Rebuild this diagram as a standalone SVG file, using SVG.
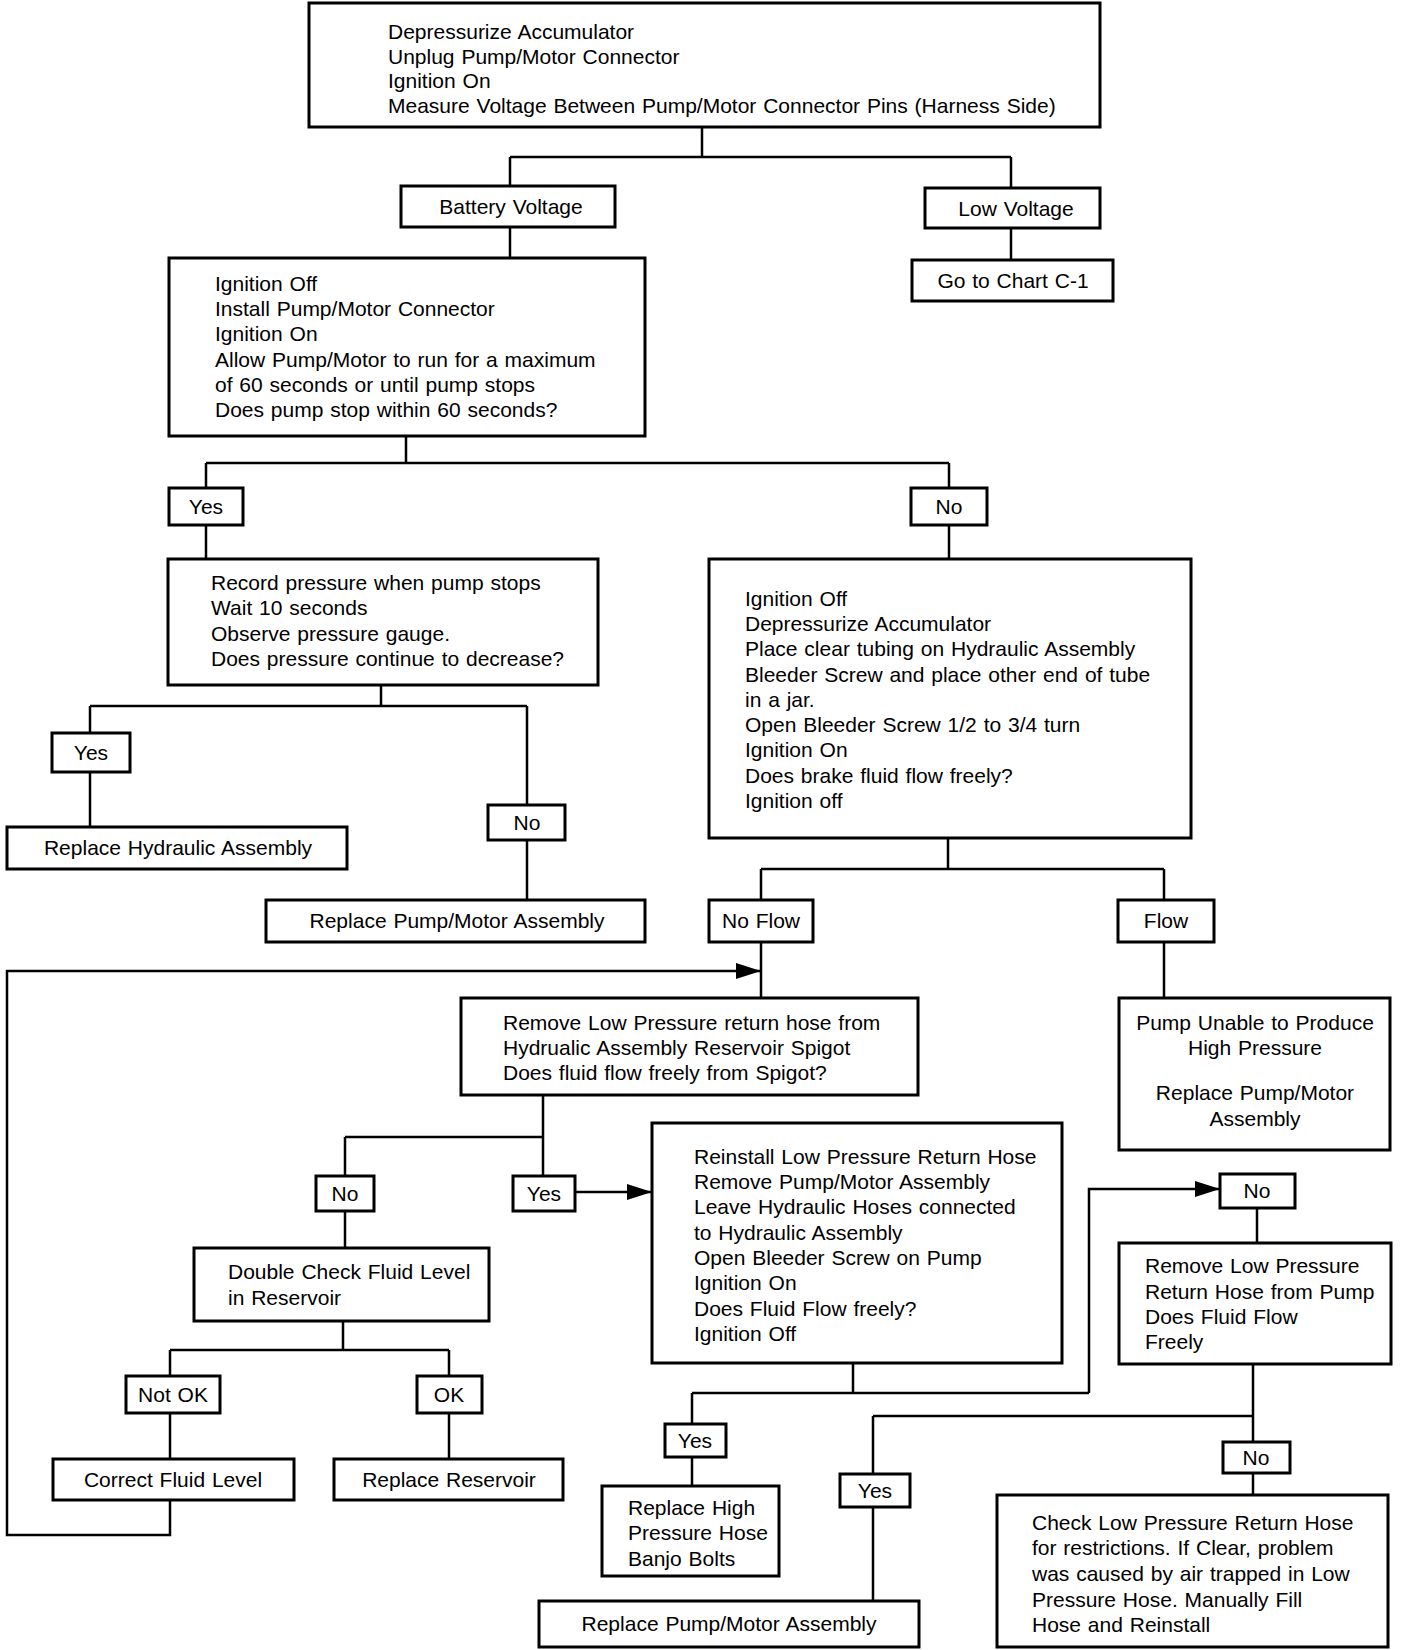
<svg xmlns="http://www.w3.org/2000/svg" width="1408" height="1650" viewBox="0 0 1408 1650">
<style>
.b{fill:#fff;stroke:#000;stroke-width:3}
.t{font-family:"Liberation Sans",Arial,sans-serif;font-size:21px;word-spacing:1px;fill:#000}
.c{text-anchor:middle}
.ln{fill:none;stroke:#000;stroke-width:2.5}
</style>
<defs>
<marker id="ar" markerUnits="userSpaceOnUse" markerWidth="26" markerHeight="16" refX="25" refY="8" orient="auto">
<path d="M0,0 L25,8 L0,16 z" fill="#000"/>
</marker>
</defs>
<rect width="1408" height="1650" fill="#fff"/>
<g id="connectors">
<path class="ln" d="M702,128 V157 M510,157 H1011 M510,157 V186 M1011,157 V188"/>
<path class="ln" d="M1011,228 V260"/>
<path class="ln" d="M510,227 V258"/>
<path class="ln" d="M406,436 V463 M206,463 H949 M206,463 V488 M949,463 V488"/>
<path class="ln" d="M206,525 V559"/>
<path class="ln" d="M949,525 V559"/>
<path class="ln" d="M381,685 V706 M90,706 H527 M90,706 V733 M527,706 V805"/>
<path class="ln" d="M90,772 V827"/>
<path class="ln" d="M527,840 V900"/>
<path class="ln" d="M948,838 V869 M761,869 H1164 M761,869 V900 M1164,869 V900"/>
<path class="ln" d="M761,942 V998"/>
<path class="ln" d="M170,1500 V1535 H7 V971 H761" marker-end="url(#ar)"/>
<path class="ln" d="M1164,942 V998"/>
<path class="ln" d="M543,1095 V1137 M345,1137 H543 M345,1137 V1176 M543,1137 V1176"/>
<path class="ln" d="M575,1192 H652" marker-end="url(#ar)"/>
<path class="ln" d="M345,1211 V1248"/>
<path class="ln" d="M343,1321 V1350 M170,1350 H449 M170,1350 V1376 M449,1350 V1376"/>
<path class="ln" d="M170,1413 V1459"/>
<path class="ln" d="M449,1413 V1459"/>
<path class="ln" d="M853,1364 V1393 M692,1393 H1089 M692,1393 V1424 M1089,1393 V1189 H1220" marker-end="url(#ar)"/>
<path class="ln" d="M692,1457 V1486"/>
<path class="ln" d="M1257,1208 V1243"/>
<path class="ln" d="M1253,1364 V1442 M873,1416 H1253 M873,1416 V1474"/>
<path class="ln" d="M873,1507 V1601"/>
<path class="ln" d="M1253,1473 V1495"/>
</g>
<g id="n1">
<rect class="b" x="309" y="3" width="791" height="124"/>
<text class="t" x="388" y="39">Depressurize Accumulator</text>
<text class="t" x="388" y="64">Unplug Pump/Motor Connector</text>
<text class="t" x="388" y="88">Ignition On</text>
<text class="t" x="388" y="113">Measure Voltage Between Pump/Motor Connector Pins (Harness Side)</text>
</g>
<g id="n2">
<rect class="b" x="401" y="186" width="214" height="41"/>
<text class="t c" x="511" y="214">Battery Voltage</text>
</g>
<g id="n3">
<rect class="b" x="925" y="188" width="175" height="40"/>
<text class="t c" x="1016" y="216">Low Voltage</text>
</g>
<g id="n4">
<rect class="b" x="912" y="260" width="201" height="41"/>
<text class="t c" x="1013" y="288">Go to Chart C-1</text>
</g>
<g id="n5">
<rect class="b" x="169" y="258" width="476" height="178"/>
<text class="t" x="215" y="291">Ignition Off</text>
<text class="t" x="215" y="316">Install Pump/Motor Connector</text>
<text class="t" x="215" y="341">Ignition On</text>
<text class="t" x="215" y="367">Allow Pump/Motor to run for a maximum</text>
<text class="t" x="215" y="392">of 60 seconds or until pump stops</text>
<text class="t" x="215" y="417">Does pump stop within 60 seconds?</text>
</g>
<g id="n6">
<rect class="b" x="169" y="488" width="74" height="37"/>
<text class="t c" x="206" y="514">Yes</text>
</g>
<g id="n7">
<rect class="b" x="911" y="488" width="76" height="37"/>
<text class="t c" x="949" y="514">No</text>
</g>
<g id="n8">
<rect class="b" x="168" y="559" width="430" height="126"/>
<text class="t" x="211" y="590">Record pressure when pump stops</text>
<text class="t" x="211" y="615">Wait 10 seconds</text>
<text class="t" x="211" y="641">Observe pressure gauge.</text>
<text class="t" x="211" y="666">Does pressure continue to decrease?</text>
</g>
<g id="n9">
<rect class="b" x="709" y="559" width="482" height="279"/>
<text class="t" x="745" y="606">Ignition Off</text>
<text class="t" x="745" y="631">Depressurize Accumulator</text>
<text class="t" x="745" y="656">Place clear tubing on Hydraulic Assembly</text>
<text class="t" x="745" y="682">Bleeder Screw and place other end of tube</text>
<text class="t" x="745" y="707">in a jar.</text>
<text class="t" x="745" y="732">Open Bleeder Screw 1/2 to 3/4 turn</text>
<text class="t" x="745" y="757">Ignition On</text>
<text class="t" x="745" y="783">Does brake fluid flow freely?</text>
<text class="t" x="745" y="808">Ignition off</text>
</g>
<g id="n10">
<rect class="b" x="52" y="733" width="78" height="39"/>
<text class="t c" x="91" y="760">Yes</text>
</g>
<g id="n11">
<rect class="b" x="488" y="805" width="77" height="35"/>
<text class="t c" x="527" y="830">No</text>
</g>
<g id="n12">
<rect class="b" x="7" y="827" width="340" height="42"/>
<text class="t c" x="178" y="855">Replace Hydraulic Assembly</text>
</g>
<g id="n13">
<rect class="b" x="266" y="900" width="379" height="42"/>
<text class="t c" x="457" y="928">Replace Pump/Motor Assembly</text>
</g>
<g id="n14">
<rect class="b" x="709" y="900" width="104" height="42"/>
<text class="t c" x="761" y="928">No Flow</text>
</g>
<g id="n15">
<rect class="b" x="1118" y="900" width="96" height="42"/>
<text class="t c" x="1166" y="928">Flow</text>
</g>
<g id="n16">
<rect class="b" x="461" y="998" width="457" height="97"/>
<text class="t" x="503" y="1030">Remove Low Pressure return hose from</text>
<text class="t" x="503" y="1055">Hydrualic Assembly Reservoir Spigot</text>
<text class="t" x="503" y="1080">Does fluid flow freely from Spigot?</text>
</g>
<g id="n17">
<rect class="b" x="1119" y="998" width="271" height="152"/>
<text class="t c" x="1255" y="1030">Pump Unable to Produce</text>
<text class="t c" x="1255" y="1055">High Pressure</text>
<text class="t c" x="1255" y="1100">Replace Pump/Motor</text>
<text class="t c" x="1255" y="1126">Assembly</text>
</g>
<g id="n18">
<rect class="b" x="316" y="1176" width="58" height="35"/>
<text class="t c" x="345" y="1201">No</text>
</g>
<g id="n19">
<rect class="b" x="513" y="1176" width="62" height="35"/>
<text class="t c" x="544" y="1201">Yes</text>
</g>
<g id="n20">
<rect class="b" x="652" y="1123" width="410" height="240"/>
<text class="t" x="694" y="1164">Reinstall Low Pressure Return Hose</text>
<text class="t" x="694" y="1189">Remove Pump/Motor Assembly</text>
<text class="t" x="694" y="1214">Leave Hydraulic Hoses connected</text>
<text class="t" x="694" y="1240">to Hydraulic Assembly</text>
<text class="t" x="694" y="1265">Open Bleeder Screw on Pump</text>
<text class="t" x="694" y="1290">Ignition On</text>
<text class="t" x="694" y="1316">Does Fluid Flow freely?</text>
<text class="t" x="694" y="1341">Ignition Off</text>
</g>
<g id="n21">
<rect class="b" x="1220" y="1174" width="75" height="34"/>
<text class="t c" x="1257" y="1198">No</text>
</g>
<g id="n22">
<rect class="b" x="1119" y="1243" width="272" height="121"/>
<text class="t" x="1145" y="1273">Remove Low Pressure</text>
<text class="t" x="1145" y="1299">Return Hose from Pump</text>
<text class="t" x="1145" y="1324">Does Fluid Flow</text>
<text class="t" x="1145" y="1349">Freely</text>
</g>
<g id="n23">
<rect class="b" x="194" y="1248" width="295" height="73"/>
<text class="t" x="228" y="1279">Double Check Fluid Level</text>
<text class="t" x="228" y="1305">in Reservoir</text>
</g>
<g id="n24">
<rect class="b" x="126" y="1376" width="94" height="37"/>
<text class="t c" x="173" y="1402">Not OK</text>
</g>
<g id="n25">
<rect class="b" x="417" y="1376" width="65" height="37"/>
<text class="t c" x="449" y="1402">OK</text>
</g>
<g id="n26">
<rect class="b" x="53" y="1459" width="241" height="41"/>
<text class="t c" x="173" y="1487">Correct Fluid Level</text>
</g>
<g id="n27">
<rect class="b" x="334" y="1459" width="229" height="41"/>
<text class="t c" x="449" y="1487">Replace Reservoir</text>
</g>
<g id="n28">
<rect class="b" x="665" y="1424" width="61" height="33"/>
<text class="t c" x="695" y="1448">Yes</text>
</g>
<g id="n29">
<rect class="b" x="602" y="1486" width="177" height="90"/>
<text class="t" x="628" y="1515">Replace High</text>
<text class="t" x="628" y="1540">Pressure Hose</text>
<text class="t" x="628" y="1566">Banjo Bolts</text>
</g>
<g id="n30">
<rect class="b" x="840" y="1474" width="70" height="33"/>
<text class="t c" x="875" y="1498">Yes</text>
</g>
<g id="n31">
<rect class="b" x="1223" y="1442" width="67" height="31"/>
<text class="t c" x="1256" y="1465">No</text>
</g>
<g id="n32">
<rect class="b" x="539" y="1601" width="380" height="46"/>
<text class="t c" x="729" y="1631">Replace Pump/Motor Assembly</text>
</g>
<g id="n33">
<rect class="b" x="997" y="1495" width="391" height="152"/>
<text class="t" x="1032" y="1530">Check Low Pressure Return Hose</text>
<text class="t" x="1032" y="1555">for restrictions. If Clear, problem</text>
<text class="t" x="1032" y="1581">was caused by air trapped in Low</text>
<text class="t" x="1032" y="1607">Pressure Hose. Manually Fill</text>
<text class="t" x="1032" y="1632">Hose and Reinstall</text>
</g>
</svg>
